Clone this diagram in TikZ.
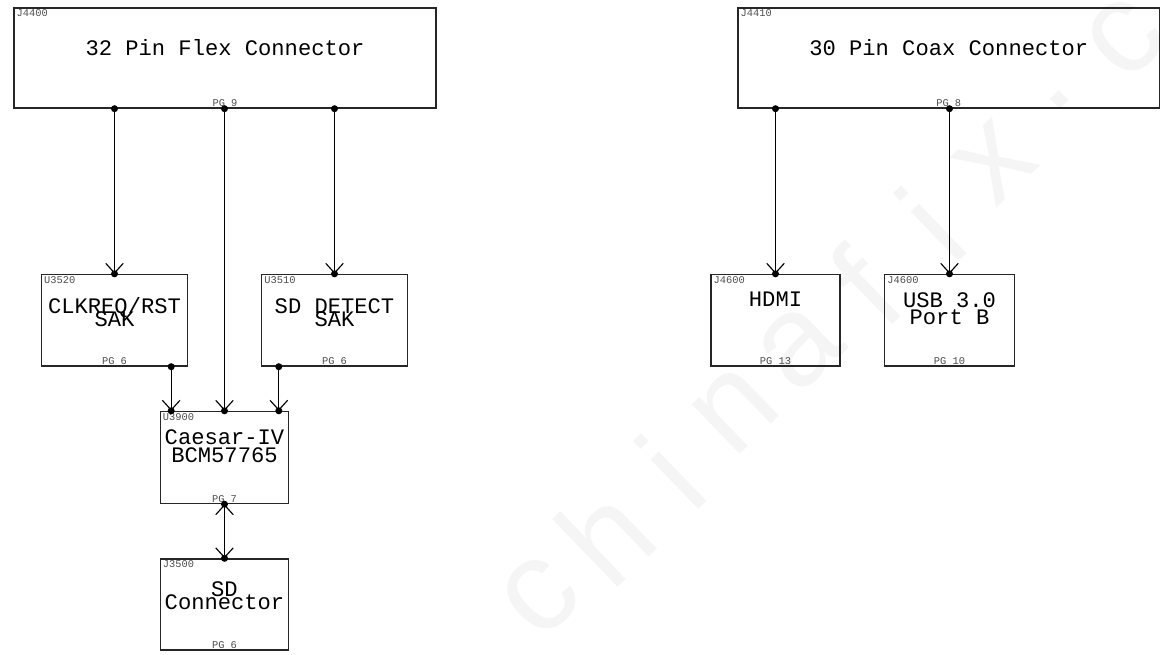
\documentclass[tikz,border=0pt]{standalone}
\usepackage{fontspec}
\setmonofont{Liberation Mono}
\setsansfont{Liberation Sans}
\usetikzlibrary{positioning,calc,arrows.meta}
\lineskiplimit=-100pt
\tikzset{
blk/.style={draw=black!85,line width=0.8pt,inner sep=0pt},
refdes/.style={font=\fontsize{5.9}{6}\selectfont\ttfamily,text=black!70,inner sep=0pt,anchor=base west,xshift=0.06cm,yshift=-0.19cm},
pgref/.style={font=\fontsize{5.9}{6}\selectfont\ttfamily,text=black!70,inner sep=0pt,anchor=base,yshift=0.04cm},
title/.style={font=\fontsize{12.6}{#1}\selectfont\ttfamily,align=center,inner sep=0pt,anchor=base},
title/.default=15,
sig/.style={line width=0.65pt,-{Straight Barb[length=5.5pt,width=10pt]}},
sigboth/.style={line width=0.65pt,{Straight Barb[length=5.5pt,width=10pt]}-{Straight Barb[length=5.5pt,width=10pt]}},
pindot/.style={circle,fill,inner sep=0pt,minimum size=4pt},
wmark/.style={font=\fontsize{74}{74}\selectfont\sffamily,text=black!4,rotate=44}
}

\begin{document}
\begin{tikzpicture}[x=0.02cm,y=-0.02cm]
\useasboundingbox (0,0) rectangle (1163,654);
% watermark
\foreach \ch [count=\i from 0] in {c,h,i,n,a,f,i,x,.,c}
  \node[wmark] (wm\i) at ($(540,596)!\i/9!(1125,38)$) {\ch};

% blocks
\node[blk,minimum width=8.44cm,minimum height=2cm,label={[refdes]north west:J4400},label={[pgref]south:PG 9}] (flex) at (225,58) {};
\node[blk,minimum width=8.43cm,minimum height=2cm,label={[refdes]north west:J4410},label={[pgref]south:PG 8}] (coax) at (948.75,58) {};
\node[blk,minimum width=2.92cm,minimum height=1.83cm,label={[refdes]north west:U3520},label={[pgref]south:PG 6}] (clk) at (114.5,320.25) {};
\node[blk,minimum width=2.91cm,minimum height=1.83cm,label={[refdes]north west:U3510},label={[pgref]south:PG 6}] (det) at (334.5,320.25) {};
\node[blk,minimum width=2.57cm,minimum height=1.84cm,label={[refdes]north west:U3900},label={[pgref]south:PG 7}] (caesar) at (224.5,457.5) {};
\node[blk,minimum width=2.57cm,minimum height=1.82cm,label={[refdes]north west:J3500},label={[pgref]south:PG 6}] (sdcon) at (224.5,604.5) {};
\node[blk,minimum width=2.58cm,minimum height=1.83cm,label={[refdes]north west:J4600},label={[pgref]south:PG 13}] (hdmi) at (775.5,320.25) {};
\node[blk,minimum width=2.59cm,minimum height=1.83cm,label={[refdes]north west:J4600},label={[pgref]south:PG 10}] (usb) at (949.5,320.25) {};

% block names (base = last line)
\node[title] (flexname) at ([yshift=-0.954cm]flex.north) {32 Pin Flex Connector};
\node[title] (coaxname) at ([yshift=-0.954cm]coax.north) {30 Pin Coax Connector};
\node[title=7.5] (clkname) at ([yshift=-1.05cm]clk.north) {CLKREQ/RST\\SAK};
\node[title=7.5] (detname) at ([yshift=-1.05cm]det.north) {SD DETECT\\SAK};
\node[title=10.4] (caesarname) at ([yshift=-1.04cm]caesar.north) {Caesar-IV\\BCM57765};
\node[title=7.5] (sdname) at ([yshift=-1.03cm]sdcon.north) {SD\\Connector};
\node[title] (hdminame) at ([yshift=-0.65cm]hdmi.north) {HDMI};
\node[title=9.8] (usbname) at ([yshift=-1.02cm]usb.north) {USB 3.0\\Port B};

% pins
\node[pindot] (f1) at (flex.south -| clk.north) {};
\node[pindot] (f2) at (flex.south -| caesar.north) {};
\node[pindot] (f3) at (flex.south -| det.north) {};
\node[pindot] (k1) at (clk.north) {};
\node[pindot] (d1) at (det.north) {};
\node[pindot] (k2) at ([xshift=-0.34cm]clk.south east) {};
\node[pindot] (d2) at ([xshift=0.355cm]det.south west) {};
\node[pindot] (x1) at (k2 |- caesar.north) {};
\node[pindot] (x2) at (caesar.north) {};
\node[pindot] (x3) at (d2 |- caesar.north) {};
\node[pindot] (x4) at (caesar.south) {};
\node[pindot] (s1) at (sdcon.north) {};
\node[pindot] (g1) at (coax.south -| hdmi.north) {};
\node[pindot] (g2) at (coax.south -| usb.north) {};
\node[pindot] (h1) at (hdmi.north) {};
\node[pindot] (u1) at (usb.north) {};

% signals
\foreach \a/\b in {f1/k1,f2/x2,f3/d1,k2/x1,d2/x3,g1/h1,g2/u1}
  \draw[sig] (\a.center) -- (\b.center);
\draw[sigboth] (x4.center) -- (s1.center);
\end{tikzpicture}
\end{document}
